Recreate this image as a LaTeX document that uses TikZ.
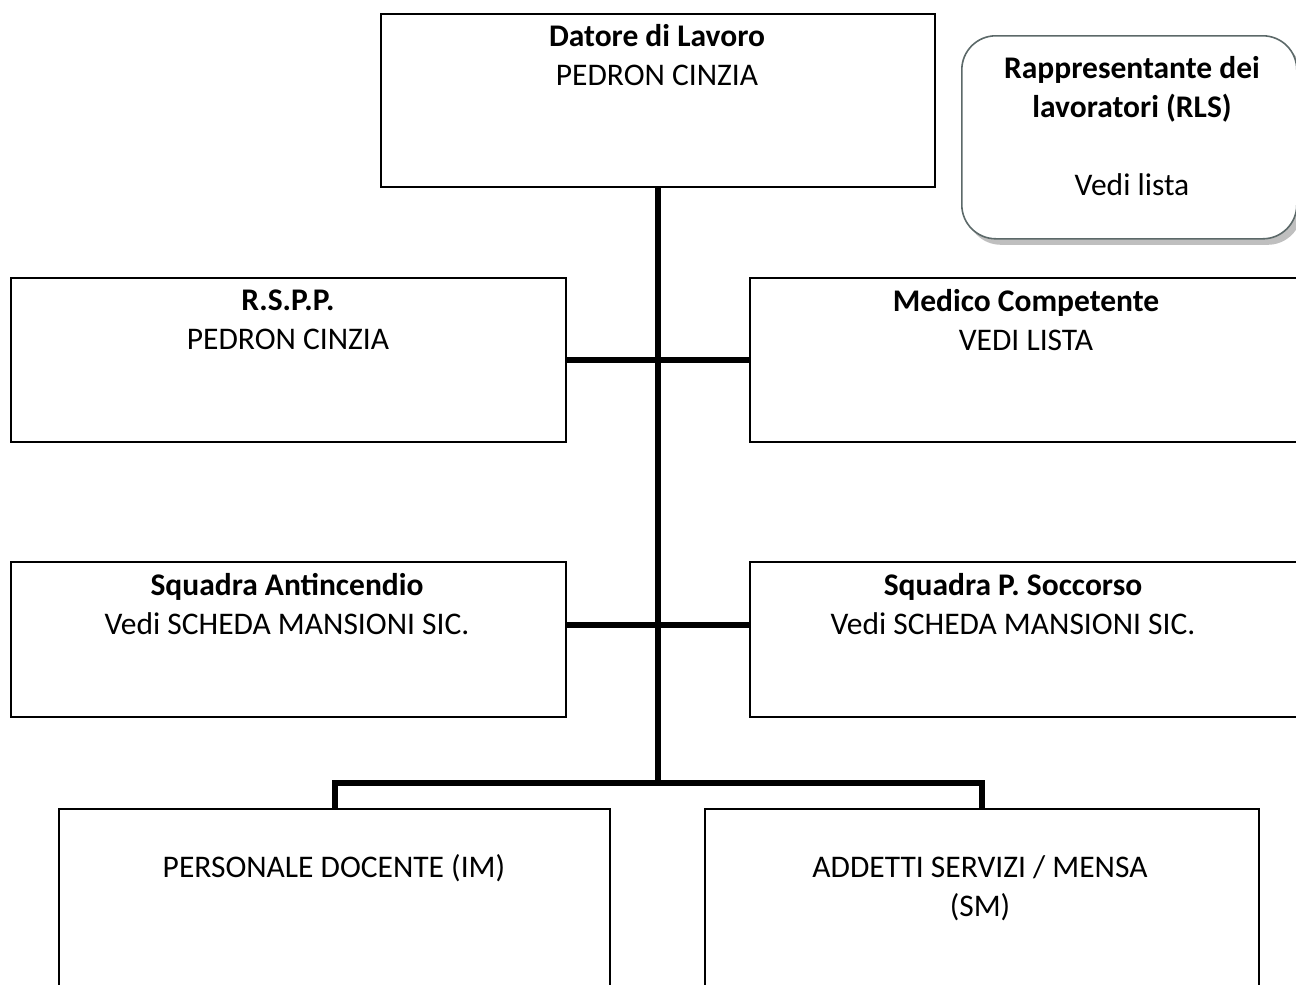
\documentclass[tikz,border=0pt]{standalone}
\usepackage{fontspec}
\setmainfont{Carlito}
\usetikzlibrary{shadows}
\usetikzlibrary{positioning}
\definecolor{rlsline}{rgb}{0.36,0.41,0.41}
\tikzset{
% Two box styles for the chart: square and rounded
unit box/.style={draw,line width=1,anchor=north west,inner sep=0},
rls box/.style={draw=rlsline,line width=0.8,rounded corners=17,anchor=north west,inner sep=0,fill=white,
	drop shadow={shadow xshift=2.5pt,shadow yshift=-3pt,fill=black!25,opacity=1}}
}
\newcommand{\role}[1]{\textbf{#1}}

\begin{document}
\begin{tikzpicture}[x=0.5pt,y=-0.5pt,font=\fontsize{15.75}{19.5}\selectfont]
		% Connector style
		\tikzstyle{link}=[line width=3,draw];
		\useasboundingbox (0,0) rectangle (1296,985);
		\clip (0,0) rectangle (1296,985);
		% The boxes
		\node(datore)[unit box,minimum width=277pt,minimum height=86.5pt] at (380,13) {};
		\node(rls)[rls box,minimum width=167.5pt,minimum height=101.5pt] at (961,35) {};
		\node(rspp)[unit box,minimum width=277.5pt,minimum height=82pt] at (10,277) {};
		\node(medico)[unit box,minimum width=280.5pt,minimum height=82pt] at (749,277) {};
		\node(antinc)[unit box,minimum width=277.5pt,minimum height=77.5pt] at (10,561) {};
		\node(socc)[unit box,minimum width=280.5pt,minimum height=77.5pt] at (749,561) {};
		\node(docenti)[unit box,minimum width=275.5pt,minimum height=96pt] at (58,808) {};
		\node(addetti)[unit box,minimum width=277pt,minimum height=96pt] at (704,808) {};
		% texts
		\node(datore-t)[align=center] at (657,55.5) {\role{Datore di Lavoro}\\PEDRON CINZIA};
		\node(rls-t)[align=center] at (1132,126.5) {\role{Rappresentante dei}\\\role{lavoratori (RLS)}\\[19.5pt]Vedi lista};
		\node(rspp-t)[align=center] at (288,320) {\role{R.S.P.P.}\\PEDRON CINZIA};
		\node(medico-t)[align=center] at (1026,320) {\role{Medico Competente}\\VEDI LISTA};
		\node(antinc-t)[align=center] at (287,604) {\role{Squadra Antincendio}\\Vedi SCHEDA MANSIONI SIC.};
		\node(socc-t)[align=center] at (1013,604) {\role{Squadra P. Soccorso}\\Vedi SCHEDA MANSIONI SIC.};
		\node(docenti-t)[align=center] at (334,868) {PERSONALE DOCENTE (IM)};
		\node(addetti-t)[align=center] at (980,888) {ADDETTI SERVIZI / MENSA\\(SM)};
		% connectors
		\coordinate(bus) at (datore.south |- 0,783);
		\draw[link] (datore.south) -- (bus);
		\draw[link] (rspp.east) -- (medico.west);
		\draw[link] (antinc.east |- 0,625) -- (socc.west |- 0,625);
		\draw[link] (docenti.north) |- (bus) -| (addetti.north);
	\end{tikzpicture}
\end{document}
